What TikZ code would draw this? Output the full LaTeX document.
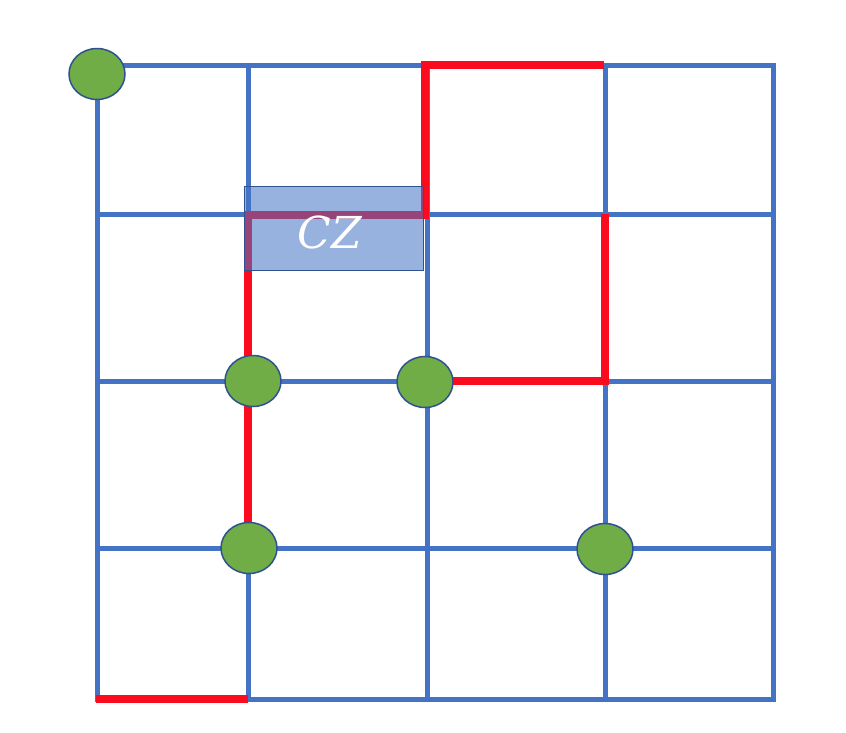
\documentclass[tikz,border=0pt]{standalone}
\usepackage{fontspec}
\setmainfont{Liberation Serif}
\newfontfamily\czfont{DejaVu Serif}
\usetikzlibrary{shapes.geometric}
\definecolor{gridblue}{RGB}{68,114,196}
\definecolor{pathred}{RGB}{250,12,30}
\definecolor{dotgreen}{RGB}{112,173,71}
\definecolor{dotedge}{RGB}{47,82,143}
\tikzset{
  gridline/.style={draw=gridblue, line width=5pt, line cap=rect},
  redpath/.style={draw=pathred, line width=8pt, line join=miter},
  dot/.style={ellipse, draw=dotedge, line width=1.5pt, fill=dotgreen, minimum width=56pt, minimum height=51pt, inner sep=0pt},
  czbox/.style={draw=dotedge, line width=1pt, fill=gridblue, fill opacity=0.55, minimum width=179pt, minimum height=84pt, inner sep=0pt}
}
\begin{document}
\begin{tikzpicture}[x=1pt,y=-1pt]
\useasboundingbox (0,0) rectangle (846,732);
% grid
\foreach \x in {97,248,427,605,773} \draw[gridline] (\x,65) -- (\x,699);
\foreach \y in {65,214,381,548,699} \draw[gridline] (97,\y) -- (773,\y);
% red paths
\coordinate (r1a) at (604,65);
\coordinate (r1b) at (425,65);
\coordinate (r1c) at (425,215);
\coordinate (r1d) at (248,215);
\coordinate (r1e) at (248,548);
\draw[redpath] (r1a) -- (r1b) -- (r1c) -- (r1d) -- (r1e);
\coordinate (r2a) at (605,214);
\coordinate (r2b) at (605,381);
\coordinate (r2c) at (427,381);
\draw[redpath] (r2a) -- (r2b) -- (r2c);
\coordinate (r3a) at (96,699);
\coordinate (r3b) at (248,699);
\draw[redpath] (r3a) -- (r3b);
% CZ box
\node[czbox] (cz) at (333.5,228) {};
\node[text=white, font=\czfont\itshape\fontsize{44}{44}\selectfont, inner sep=0pt] (czlabel) at (330,232) {CZ};
% dots
\node[dot] (d1) at (97,74) {};
\node[dot] (d2) at (253,381) {};
\node[dot] (d3) at (425,382) {};
\node[dot] (d4) at (249,548) {};
\node[dot] (d5) at (605,549) {};
\end{tikzpicture}
\end{document}
